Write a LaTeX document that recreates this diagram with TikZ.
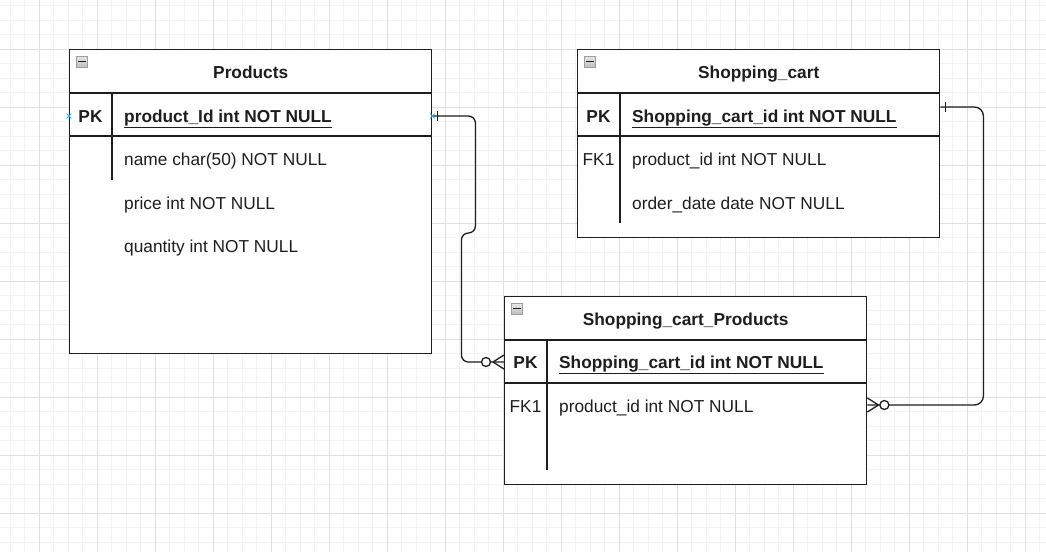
\documentclass[tikz,border=0pt]{standalone}
\usepackage{fontspec}
\setmainfont{Liberation Sans}
\usetikzlibrary{positioning, calc, shapes.misc}
\tikzset{every node/.append style={inner sep=0pt}}
\definecolor{gridlo}{HTML}{F3F3F3}
\definecolor{gridhi}{HTML}{E0E0E0}
\definecolor{ink}{HTML}{1E1E1E}
\definecolor{hint}{HTML}{29B6F2}
\newcommand{\pkfield}[1]{\textbf{\underline{#1}}}

\begin{document}
\begin{tikzpicture}[x=1pt, y=-1pt,
    font=\fontsize{17.3}{20}\selectfont,
    tbl/.style={rectangle, draw=ink, line width=1.4pt, anchor=north west,
        minimum width=362pt, minimum height=188pt, fill=white},
    sep/.style={draw=ink, line width=1.4pt},
    ttl/.style={font=\fontsize{17.3}{20}\selectfont\bfseries, text=ink, anchor=base},
    key/.style={text=ink, anchor=base},
    pkey/.style={key, font=\fontsize{17.3}{20}\selectfont\bfseries},
    fld/.style={anchor=base west, text=ink},
    rel/.style={line width=1.3pt, ink},
    lo/.style={gridlo, line width=0.8pt},
    hi/.style={gridhi, line width=0.8pt},
    hintx/.style={cross out, draw=hint, line width=0.8pt, minimum size=4pt},
    icon/.style={rectangle, draw=gray!75, top color=gray!20, bottom color=gray!50,
        line width=0.6pt, minimum size=11pt, anchor=north west}
]
\useasboundingbox (0,0) rectangle (1046,552);
\fill[white] (0,0) rectangle (1046,552);

% ===== GRID =====
\foreach \i [evaluate=\i as \gx using 10.3+14.5*\i] in {0,...,71}
    \draw[lo] (\gx,0) -- (\gx,552);
\foreach \j [evaluate=\j as \gy using 5.8+14.5*\j] in {0,...,37}
    \draw[lo] (0,\gy) -- (1046,\gy);
\foreach \i [evaluate=\i as \gx using 39.3+58*\i] in {0,...,17}
    \draw[hi] (\gx,0) -- (\gx,552);
\foreach \j [evaluate=\j as \gy using 49.3+58*\j] in {0,...,8}
    \draw[hi] (0,\gy) -- (1046,\gy);

% ===== PRODUCTS =====
\node[tbl, minimum height=304pt] (products) at (69,49) {};
\node[icon] (icP) at ($(products.north west)+(7,7)$) {};
\draw[ink, line width=1.3pt] ($(icP.west)+(2,0)$) -- ($(icP.east)+(-2,0)$);
\node[ttl] (tP) at ($(products.north)+(0,29)$) {Products};
\draw[sep] ($(products.north west)+(0,44)$) -- ($(products.north east)+(0,44)$);
\draw[sep] ($(products.north west)+(0,87)$) -- ($(products.north east)+(0,87)$);
\draw[sep] ($(products.north west)+(43,44)$) -- ($(products.north west)+(43,131)$);
\node[pkey] (kP) at ($(products.north west)+(21.5,73)$) {PK};
\node[fld] (pPK) at ($(products.north west)+(55,73)$) {\pkfield{product\_Id int NOT NULL}};
\node[fld] (pName) at ($(products.north west)+(55,116)$) {name char(50) NOT NULL};
\node[fld] (pPrice) at ($(products.north west)+(55,160)$) {price int NOT NULL};
\node[fld] (pQty) at ($(products.north west)+(55,203)$) {quantity int NOT NULL};

% ===== SHOPPING_CART =====
\node[tbl] (cart) at (577,49) {};
\node[icon] (icC) at ($(cart.north west)+(7,7)$) {};
\draw[ink, line width=1.3pt] ($(icC.west)+(2,0)$) -- ($(icC.east)+(-2,0)$);
\node[ttl] (tC) at ($(cart.north)+(0,29)$) {Shopping\_cart};
\draw[sep] ($(cart.north west)+(0,44)$) -- ($(cart.north east)+(0,44)$);
\draw[sep] ($(cart.north west)+(0,87)$) -- ($(cart.north east)+(0,87)$);
\draw[sep] ($(cart.north west)+(43,44)$) -- ($(cart.north west)+(43,174)$);
\node[pkey] (kC) at ($(cart.north west)+(21.5,73)$) {PK};
\node[key] (kC2) at ($(cart.north west)+(21.5,116)$) {FK1};
\node[fld] (cPK) at ($(cart.north west)+(55,73)$) {\pkfield{Shopping\_cart\_id int NOT NULL}};
\node[fld] (cFK) at ($(cart.north west)+(55,116)$) {product\_id int NOT NULL};
\node[fld] (cDate) at ($(cart.north west)+(55,160)$) {order\_date date NOT NULL};

% ===== SHOPPING_CART_PRODUCTS =====
\node[tbl] (scp) at (504,296) {};
\node[icon] (icS) at ($(scp.north west)+(7,7)$) {};
\draw[ink, line width=1.3pt] ($(icS.west)+(2,0)$) -- ($(icS.east)+(-2,0)$);
\node[ttl] (tS) at ($(scp.north)+(0,29)$) {Shopping\_cart\_Products};
\draw[sep] ($(scp.north west)+(0,44)$) -- ($(scp.north east)+(0,44)$);
\draw[sep, line width=2pt] ($(scp.north west)+(0,87)$) -- ($(scp.north east)+(0,87)$);
\draw[sep] ($(scp.north west)+(43,44)$) -- ($(scp.north west)+(43,174)$);
\node[pkey] (kS) at ($(scp.north west)+(21.5,72)$) {PK};
\node[key] (kS2) at ($(scp.north west)+(21.5,116)$) {FK1};
\node[fld] (sPK) at ($(scp.north west)+(55,72)$) {\pkfield{Shopping\_cart\_id int NOT NULL}};
\node[fld] (sFK) at ($(scp.north west)+(55,116)$) {product\_id int NOT NULL};

% ===== RELATIONS =====
% products (one) -> shopping_cart_products (zero or many)
\coordinate (p1) at ($(products.north east)+(0,67)$);
\coordinate (s1) at ($(scp.north west)+(0,66)$);
\draw[rel, rounded corners=7pt] (p1) -- ++(43,0) -- ++(0,117) -- ++(-14,0) |- (s1);
\draw[rel] ($(p1)+(5,-5)$) -- ($(p1)+(5,5)$);
\draw[rel] ($(s1)+(-11,0)$) -- ($(s1)+(0,-7)$);
\draw[rel] ($(s1)+(-11,0)$) -- ($(s1)+(0,7)$);
\draw[rel, fill=white] ($(s1)+(-18,0)$) circle (4.5pt);
\node[hintx] (hx1) at (p1) {};
\node[hintx] (hx2) at ($(products.north west)+(0,67)$) {};

% shopping_cart (one) -> shopping_cart_products (zero or many)
\coordinate (c2) at ($(cart.north east)+(0,58)$);
\coordinate (s2) at ($(scp.north east)+(0,109)$);
\draw[rel, rounded corners=9pt] (c2) -- ++(43,0) |- (s2);
\draw[rel] ($(c2)+(5,-5)$) -- ($(c2)+(5,5)$);
\draw[rel] ($(s2)+(11,0)$) -- ($(s2)+(0,-7)$);
\draw[rel] ($(s2)+(11,0)$) -- ($(s2)+(0,7)$);
\draw[rel, fill=white] ($(s2)+(17,0)$) circle (4.5pt);
\end{tikzpicture}
\end{document}
